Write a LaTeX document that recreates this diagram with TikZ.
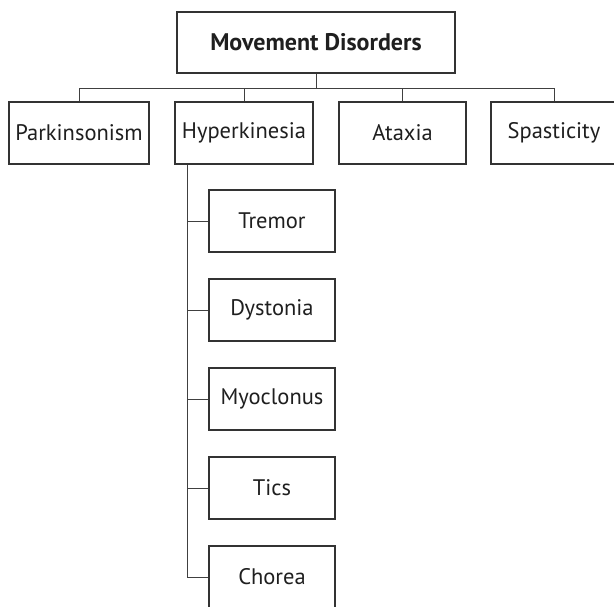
\documentclass[tikz,border=0pt]{standalone}
\usepackage{fontspec}
\setmainfont{PT Sans}
\begin{document}
\begin{tikzpicture}[x=1pt,y=1pt,
  box/.style={draw=black!80, line width=1.1pt, fill=white, inner sep=0pt, minimum height=62pt, text=black!88, font=\fontsize{22.5}{26}\selectfont},
  conn/.style={draw=black!75, line width=1pt}]
\useasboundingbox (0,0) rectangle (614,-606);
\node[box, minimum width=278pt, minimum height=61pt, font=\fontsize{24}{28}\selectfont\bfseries] (top) at (316,-42.5) {Movement Disorders};
\node[box, minimum width=140pt] (park) at (79,-133) {Parkinsonism};
\node[box, minimum width=138pt] (hyp) at (244,-133) {Hyperkinesia};
\node[box, minimum width=127pt] (atax) at (402.5,-133) {Ataxia};
\node[box, minimum width=126pt] (spas) at (554,-133) {Spasticity};
\node[box, minimum width=126pt] (tremor) at (272,-221) {Tremor};
\node[box, minimum width=126pt] (dyst) at (272,-310) {Dystonia};
\node[box, minimum width=126pt] (myo) at (272,-399) {Myoclonus};
\node[box, minimum width=126pt] (tics) at (272,-488) {Tics};
\node[box, minimum width=126pt] (chorea) at (272,-577) {Chorea};
\coordinate (busy) at (0,-88);
\draw[conn] (top.south) -- (top.south |- busy);
\draw[conn] (park.north) |- (busy -| spas.north) -- (spas.north);
\draw[conn] (hyp.north) -- (hyp.north |- busy);
\draw[conn] (atax.north) -- (atax.north |- busy);
\coordinate (trunk) at ([xshift=13pt]hyp.south west);
\draw[conn] (trunk) |- (chorea.west);
\draw[conn] (trunk |- tremor.west) -- (tremor.west);
\draw[conn] (trunk |- dyst.west) -- (dyst.west);
\draw[conn] (trunk |- myo.west) -- (myo.west);
\draw[conn] (trunk |- tics.west) -- (tics.west);
\end{tikzpicture}
\end{document}
